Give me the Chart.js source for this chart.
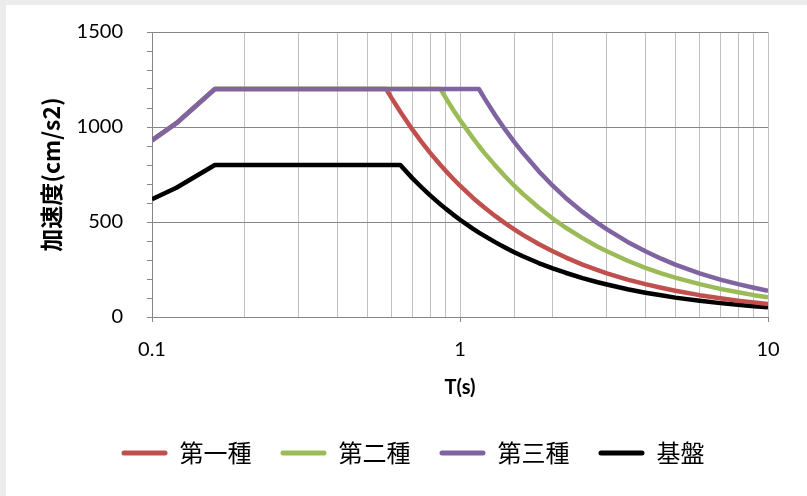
<!DOCTYPE html>
<html>
<head>
<meta charset="utf-8">
<script src="https://cdn.jsdelivr.net/npm/chart.js@4/dist/chart.umd.min.js"></script>
<style>
  html, body { margin: 0; padding: 0; background: #ececec; }
  #wrap { position: absolute; left: 6px; top: 5px; width: 801px; height: 491px; background: #fff; }
</style>
</head>
<body>
<div id="wrap"><canvas id="spectrum"></canvas></div>
<script>
// period T (s)
const periods = [0.1, 0.12, 0.16, 0.2, 0.3, 0.4, 0.5, 0.55, 0.576, 0.6, 0.64, 0.7, 0.75, 0.8, 0.864, 0.9, 0.95, 1.0,
  1.1, 1.152, 1.2, 1.3, 1.4, 1.5, 1.6, 1.8, 2.0, 2.2, 2.5, 2.8, 3.0, 3.5, 4, 4.5, 5, 6, 7, 8, 9, 10];

// acceleration (cm/s2)
const type1 = [930, 1020, 1200, 1200, 1200, 1200, 1200, 1200, 1200, 1152, 1080, 987, 922, 864, 800, 768, 728, 691,
  628, 600, 576, 532, 494, 461, 432, 384, 346, 314, 276, 247, 230, 197, 173, 154, 138, 115, 99, 86, 77, 69];
const type2 = [930, 1020, 1200, 1200, 1200, 1200, 1200, 1200, 1200, 1200, 1200, 1200, 1200, 1200, 1200, 1152, 1091, 1037,
  943, 900, 864, 798, 741, 691, 648, 576, 518, 471, 415, 370, 346, 296, 259, 230, 207, 173, 148, 130, 115, 104];
const type3 = [930, 1020, 1200, 1200, 1200, 1200, 1200, 1200, 1200, 1200, 1200, 1200, 1200, 1200, 1200, 1200, 1200, 1200,
  1200, 1200, 1152, 1063, 987, 922, 864, 768, 691, 628, 553, 494, 461, 395, 346, 307, 276, 230, 197, 173, 154, 138];
const bedrock = [620, 680, 800, 800, 800, 800, 800, 800, 800, 800, 800, 731, 683, 640, 593, 569, 539, 512,
  465, 444, 427, 394, 366, 341, 320, 284, 256, 233, 205, 183, 171, 146, 128, 114, 102, 85, 73, 64, 57, 51];

const seriesNames = ['第一種', '第二種', '第三種', '基盤'];
const seriesColors = ['#C0504D', '#9BBB59', '#8064A2', '#000000'];
const xLabelTicks = [0.1, 1, 10];

const latin = 'Lato, "Noto Sans CJK JP", sans-serif';
const cjk = '"Noto Sans CJK JP", sans-serif';

function toPoints(vals) {
  return periods.map((t, i) => ({ x: t, y: vals[i] }));
}

// Excel draws later series on top, so purple wins on the plateau
const drawOrder = [2, 1, 0, 3];
const datasets = [type1, type2, type3, bedrock].map((vals, i) => ({
  label: seriesNames[i],
  data: toPoints(vals),
  borderColor: seriesColors[i],
  backgroundColor: seriesColors[i],
  borderWidth: 4.5,
  pointRadius: 0,
  tension: 0,
  borderJoinStyle: 'round',
  order: drawOrder[i]
}));

const isMajorY = v => Math.round(v) % 500 === 0;

// nudge the legend row to where Excel centred it
const legendShift = {
  id: 'legendShift',
  afterLayout(chart) {
    chart.legend.left += 26;
    chart.legend.right += 26;
  }
};

new Chart(document.getElementById('spectrum').getContext('2d'), {
  type: 'line',
  data: { datasets },
  plugins: [legendShift],
  options: {
    responsive: true,
    maintainAspectRatio: false,
    animation: false,
    layout: { padding: { left: 0, top: 27, right: 39, bottom: 21 } },
    plugins: {
      tooltip: { enabled: false },
      legend: {
        position: 'bottom',
        labels: {
          boxWidth: 46,
          boxHeight: 5,
          useBorderRadius: true,
          borderRadius: 2.5,
          padding: 29,
          color: '#000',
          font: { family: cjk, size: 24 },
          sort: (a, b) => a.datasetIndex - b.datasetIndex,
          generateLabels: chart => Chart.defaults.plugins.legend.labels.generateLabels(chart).map(item => {
            item.lineWidth = 0;
            item.strokeStyle = item.fillStyle;
            return item;
          })
        }
      }
    },
    scales: {
      x: {
        type: 'logarithmic',
        min: 0.1,
        max: 10,
        afterFit: scale => { scale.height = 95; },
        border: { color: '#868686', width: 1 },
        grid: {
          color: '#c0c0c0',
          tickLength: 5,
          tickColor: ctx => xLabelTicks.includes(ctx.tick.value) ? '#868686' : 'rgba(0,0,0,0)'
        },
        ticks: {
          autoSkip: false,
          maxRotation: 0,
          padding: 16,
          color: '#000',
          font: { family: latin, size: 20 },
          callback: v => xLabelTicks.includes(v) ? String(v) : ''
        },
        title: {
          display: true,
          text: 'T(s)',
          color: '#000',
          font: { family: latin, size: 20, weight: 'bold' },
          padding: { top: 0, bottom: 12 }
        }
      },
      y: {
        min: 0,
        max: 1500,
        afterFit: scale => {
          scale.width = 146;
          scale.paddingTop = 0;
          scale.paddingBottom = 0;
        },
        border: { color: '#868686', width: 1 },
        grid: {
          color: ctx => isMajorY(ctx.tick.value) ? '#868686' : 'rgba(0,0,0,0)',
          tickLength: 5,
          tickColor: '#868686'
        },
        ticks: {
          stepSize: 100,
          maxTicksLimit: 20,
          autoSkip: false,
          padding: 24,
          color: '#000',
          font: { family: latin, size: 20 },
          callback: v => isMajorY(v) ? String(Math.round(v)) : ''
        },
        title: {
          display: true,
          text: '加速度(cm/s2)',
          color: '#000',
          font: { family: cjk, size: 23, weight: 'bold' },
          padding: { top: 31, bottom: 0 }
        }
      }
    }
  }
});
</script>
</body>
</html>
